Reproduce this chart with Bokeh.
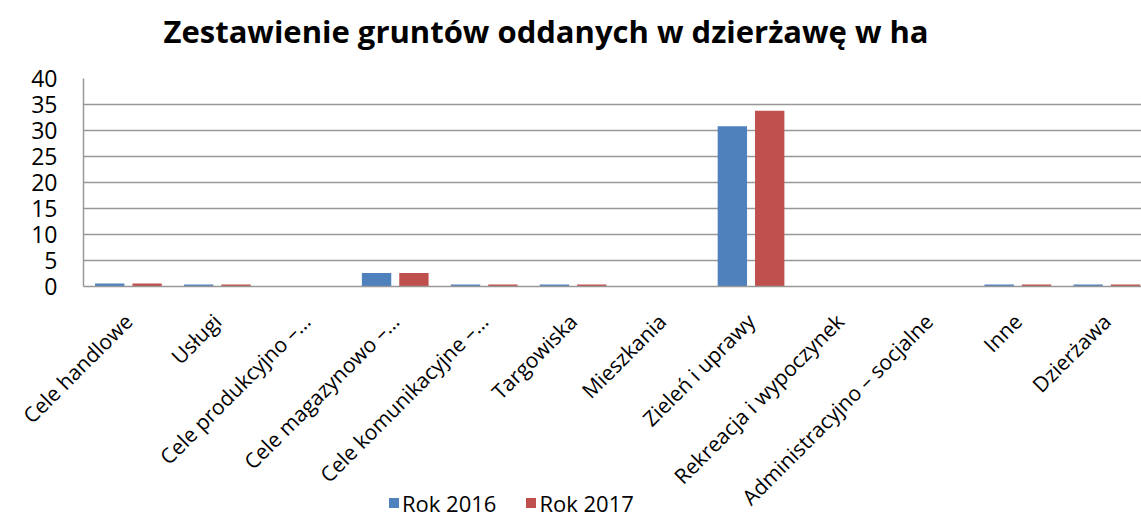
import math
from bokeh.plotting import figure
from bokeh.models import (ColumnDataSource, Range1d, FixedTicker, GridBox, Div, Title,
                          CustomJSTickFormatter)
from bokeh.transform import dodge
from bokeh.embed import file_html
from bokeh.resources import INLINE

categories = ["Cele handlowe", "Usługi", "Cele produkcyjno –…", "Cele magazynowo –…",
              "Cele komunikacyjne –…", "Targowiska", "Mieszkania", "Zieleń i uprawy",
              "Rekreacja i wypoczynek", "Administracyjno – socjalne", "Inne", "Dzierżawa"]
rok_2016 = [0.6, 0.4, 0.0, 2.6, 0.4, 0.4, 0.0, 30.8, 0.0, 0.0, 0.4, 0.4]
rok_2017 = [0.6, 0.4, 0.0, 2.6, 0.4, 0.4, 0.0, 33.8, 0.0, 0.0, 0.4, 0.4]
y_ticks = [0, 5, 10, 15, 20, 25, 30, 35, 40]
series_names = ["Rok 2016", "Rok 2017"]
title_text = "Zestawienie gruntów oddanych w dzierżawę w ha"

FONT = "Open Sans"
BLUE = "#4F81BD"
RED = "#C0504D"
GRID = "#989898"
W, H = 1141, 526

idx = list(range(len(categories)))
src = ColumnDataSource(dict(x=idx, y2016=rok_2016, y2017=rok_2017))

p = figure(width=W, height=H, output_backend="svg", toolbar_location=None, title=None,
           x_range=Range1d(-0.505, 11.39), y_range=Range1d(0, 40),
           min_border_left=83, min_border_right=0, min_border_top=78,
           min_border_bottom=240)
p.outline_line_color = None

r1 = p.vbar(x=dodge("x", -0.21, range=p.x_range), top="y2016", width=0.33,
            source=src, fill_color=BLUE, line_color=None)
r2 = p.vbar(x=dodge("x", 0.21, range=p.x_range), top="y2017", width=0.33,
            source=src, fill_color=RED, line_color=None)

# spacer between frame and title, then the title itself
p.add_layout(Title(text=" ", text_font_size="1px", standoff=24), "above")
p.add_layout(Title(text=title_text, text_font=FONT, text_font_size="31px",
                   text_font_style="bold", text_color="black", align="left",
                   offset=80, standoff=0), "above")

# axes
p.xaxis.ticker = FixedTicker(ticks=idx)
p.xaxis.formatter = CustomJSTickFormatter(args=dict(cats=categories),
                                          code="return cats[Math.round(tick)]")
p.xaxis.major_label_orientation = math.pi / 4
p.xaxis.major_label_text_font = FONT
p.xaxis.major_label_text_font_size = "21px"
p.xaxis.major_label_text_color = "black"
p.xaxis.major_tick_line_color = None
p.xaxis.minor_tick_line_color = None
p.xaxis.axis_line_color = GRID
p.xaxis.axis_line_width = 1.5
p.xaxis.major_label_standoff = 25

p.yaxis.ticker = FixedTicker(ticks=y_ticks)
p.yaxis.major_label_text_font = FONT
p.yaxis.major_label_text_font_size = "23px"
p.yaxis.major_label_text_color = "black"
p.yaxis.major_tick_line_color = None
p.yaxis.minor_tick_line_color = None
p.yaxis.axis_line_color = GRID
p.yaxis.axis_line_width = 1.5
p.yaxis.major_label_standoff = 20

p.xgrid.grid_line_color = None
p.ygrid.ticker = FixedTicker(ticks=y_ticks)
p.ygrid.grid_line_color = GRID
p.ygrid.grid_line_width = 1.5

# legend as an HTML overlay in the same grid cell (over the axis-label area)
items_html = "".join(
    f'<span style="display:inline-flex;align-items:center;margin-right:{m}px">'
    f'<span style="display:inline-block;width:10px;height:10px;background:{c};'
    f'margin-right:3px"></span>{name}</span>'
    for name, c, m in zip(series_names, [BLUE, RED], [30, 0]))
legend_div = Div(
    text=(f'<div style="position:absolute;left:384px;top:487px;white-space:nowrap;'
          f"font-family:'{FONT}';font-size:22px;line-height:22px;color:black;"
          f'display:flex;align-items:center">{items_html}</div>'),
    width=W, height=H)

layout = GridBox(children=[(p, 0, 0), (legend_div, 0, 0)])

open("out.html", "w").write(file_html(layout, INLINE))
